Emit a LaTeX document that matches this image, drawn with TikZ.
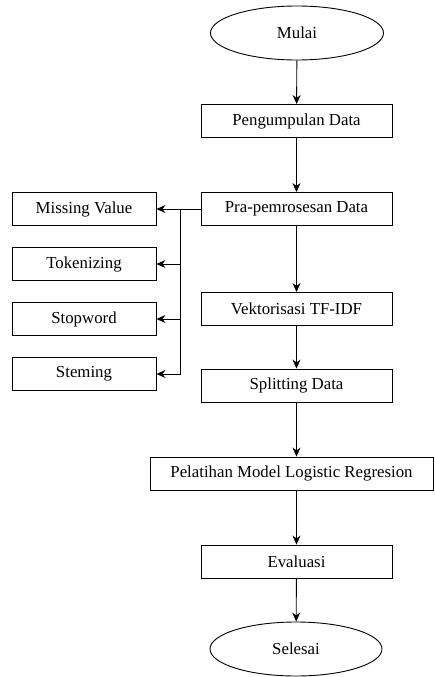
\documentclass[tikz,border=0pt]{standalone}
\usepackage{fontspec}
\setmainfont{Liberation Serif}
\usetikzlibrary{shapes.geometric,arrows.meta}
\begin{document}
\begin{tikzpicture}[x=1pt,y=-1pt,
  every node/.style={font=\fontsize{16.8}{19}\selectfont},
  kotak/.style={draw, line width=0.9pt, inner sep=0pt, minimum width=191pt, minimum height=33pt},
  kecil/.style={kotak, minimum width=144pt},
  elips/.style={ellipse, draw, line width=0.9pt, inner sep=0pt, minimum width=173pt, minimum height=54pt},
  panah/.style={-{Stealth[length=9pt,width=8pt]}, line width=0.9pt}]
\useasboundingbox (0,0) rectangle (435,677);
\node[elips] (mulai) at (297,33){Mulai};
\node[kotak] (kumpul) at (296.5,121){Pengumpulan Data};
\node[kotak] (pra) at (296.5,209){Pra-pemrosesan Data};
\node[kotak] (vektor) at (296.5,309){Vektorisasi TF-IDF};
\node[kotak] (split) at (296.5,385.5){Splitting Data};
\node[kotak, minimum width=283pt] (latih) at (291.5,473.5){Pelatihan Model Logistic Regresion};
\node[kotak] (eval) at (296.5,561.5){Evaluasi};
\node[elips, minimum width=172pt] (selesai) at (296,649){Selesai};
\node[kecil] (missing) at (84,209){Missing Value};
\node[kecil] (token) at (84,264){Tokenizing};
\node[kecil] (stop) at (84,319){Stopword};
\node[kecil] (stem) at (84,374){Steming};
\coordinate (bus) at (180,209);
\draw[panah](mulai) -- (kumpul);
\draw[panah](kumpul) -- (pra);
\draw[panah](pra) -- (vektor);
\draw[panah](vektor) -- (split);
\draw[panah](split.south) -- (split.south |- latih.north);
\draw[panah](latih.south -| eval.north) -- (eval);
\draw[panah](eval) -- (selesai);
\draw[panah](pra) -- (missing);
\draw[panah](bus) |- (token);
\draw[panah](bus) |- (stop);
\draw[panah](bus) |- (stem);
\end{tikzpicture}
\end{document}
